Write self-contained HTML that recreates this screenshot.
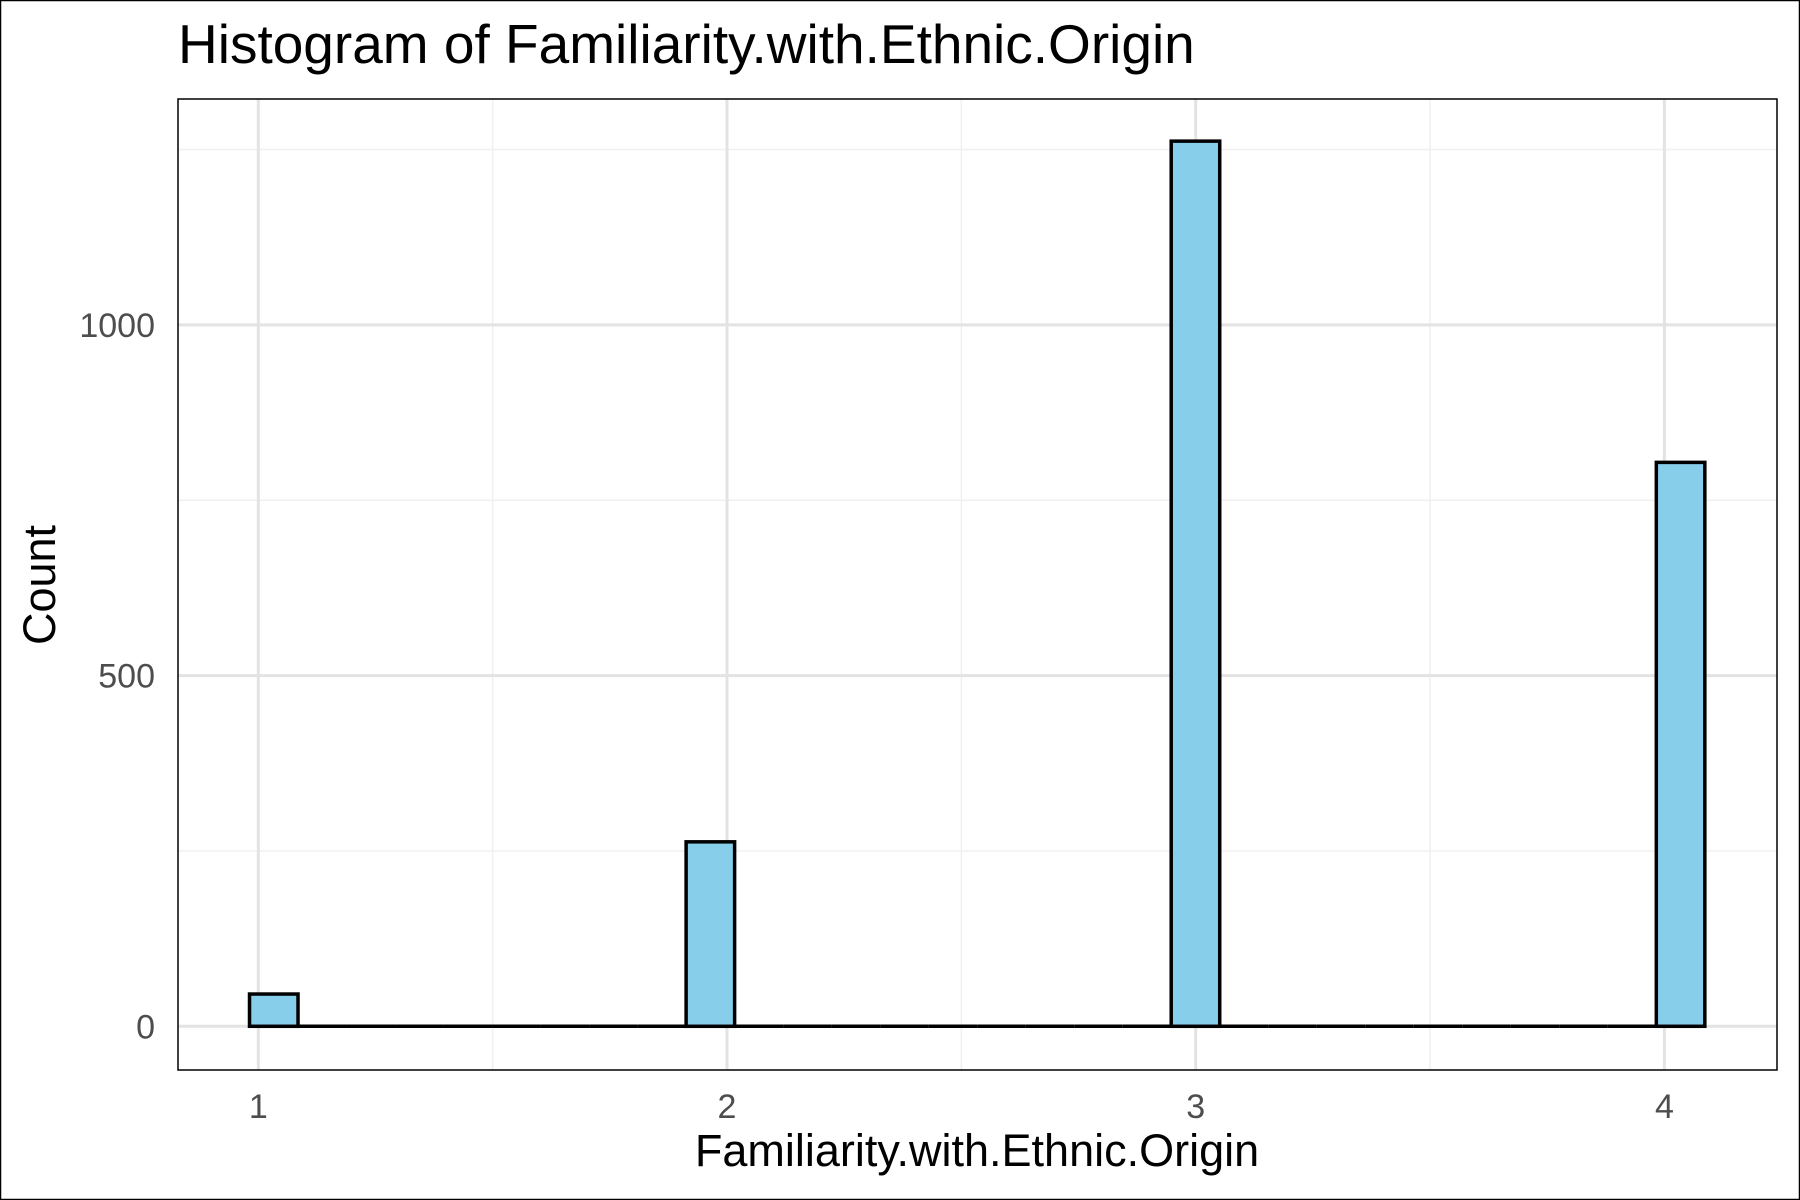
<!DOCTYPE html>
<html><head><meta charset="utf-8"><style>
body{margin:0;background:#fff}
svg{display:block;font-family:"Liberation Sans",Arial,sans-serif}
</style></head><body>
<svg id="chart" width="1800" height="1200" viewBox="0 0 1800 1200">
<rect x="0.5" y="0.5" width="1799" height="1199" fill="#fff" stroke="#000" stroke-width="1.5"/>
<text x="178" y="63" font-size="55" fill="#000">Histogram of Familiarity.with.Ethnic.Origin</text>
<g id="grid"></g>
<g id="bars"></g>
<rect x="178" y="99" width="1599" height="971" fill="none" stroke="#000" stroke-width="1.5"/>
<g id="ticks"></g>
<text x="977" y="1166" font-size="45" text-anchor="middle" fill="#000">Familiarity.with.Ethnic.Origin</text>
<text transform="translate(55,585) rotate(-90)" font-size="45" text-anchor="middle" fill="#000">Count</text>
</svg>
<script>
const binStart = 1.033;
const binWidth = 0.1035;
const binCounts = [46,0,0,0,0,0,0,0,0,263,0,0,0,0,0,0,0,0,0,1262,0,0,0,0,0,0,0,0,0,804];
const xMajorTicks = [1,2,3,4];
const xMinorTicks = [1.5,2.5,3.5];
const yMajorTicks = [0,500,1000];
const yMinorTicks = [250,750,1250];
const yTickLabels = ["0","500","1000"];

const X0=178,X1=1777,Y0=99,Y1=1070;
const sx=v=>258.3+(v-1)*468.7;
const sy=v=>1026.3-v*0.7014;
const NS="http://www.w3.org/2000/svg";
function mk(tag,attrs,parent){const e=document.createElementNS(NS,tag);for(const k in attrs)e.setAttribute(k,attrs[k]);parent.appendChild(e);return e;}
const grid=document.getElementById('grid'),bars=document.getElementById('bars'),ticks=document.getElementById('ticks');
xMinorTicks.forEach(v=>{const l=mk('line',{x1:sx(v),x2:sx(v),y1:Y0,y2:Y1,stroke:'#f0f0f0','stroke-width':1.5},grid);

});
yMinorTicks.forEach(v=>{const l=mk('line',{x1:X0,x2:X1,y1:sy(v),y2:sy(v),stroke:'#f0f0f0','stroke-width':1.5},grid);

});
xMajorTicks.forEach(v=>{const l=mk('line',{x1:sx(v),x2:sx(v),y1:Y0,y2:Y1,stroke:'#e3e3e3','stroke-width':3},grid);


const t=mk('text',{x:sx(v),y:1118,'font-size':34,'text-anchor':'middle',fill:'#4d4d4d'},ticks);t.textContent=v;

});
yMajorTicks.forEach((v,i)=>{const l=mk('line',{x1:X0,x2:X1,y1:sy(v),y2:sy(v),stroke:'#e3e3e3','stroke-width':3},grid);


const t=mk('text',{x:155,y:sy(v)+12,'font-size':34,'text-anchor':'end',fill:'#4d4d4d'},ticks);t.textContent=yTickLabels[i];

});
binCounts.forEach((c,i)=>{const c0=binStart+i*binWidth;const xa=sx(c0-binWidth/2),xb=sx(c0+binWidth/2);
if(c>0){
const r=mk('rect',{x:xa,y:sy(c),width:xb-xa,height:sy(0)-sy(c),fill:'#87ceeb',stroke:'#000','stroke-width':3.5},bars);


}else{
const r=mk('line',{x1:xa,x2:xb,y1:sy(0),y2:sy(0),stroke:'#000','stroke-width':3.5},bars);


}});
</script>
</body></html>
